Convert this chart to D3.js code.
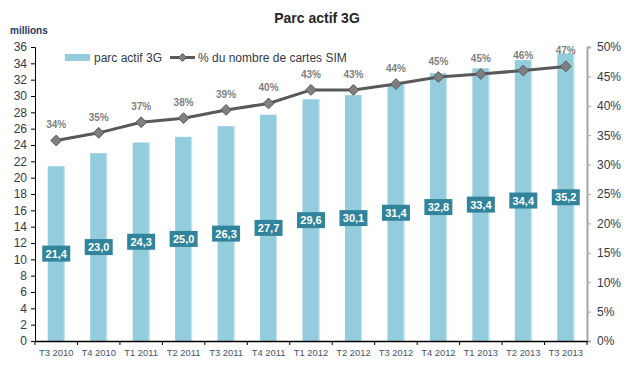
<!DOCTYPE html>
<html><head><meta charset="utf-8">
<script src="https://cdn.jsdelivr.net/npm/d3@7"></script>
<style>body{margin:0;background:#fff;} svg{display:block;font-family:Arial, "Liberation Sans", sans-serif;}</style>
</head><body>
<script>
const categories = ["T3 2010","T4 2010","T1 2011","T2 2011","T3 2011","T4 2011","T1 2012","T2 2012","T3 2012","T4 2012","T1 2013","T2 2013","T3 2013"];
const parcValues = [21.4,23.0,24.3,25.0,26.3,27.7,29.6,30.1,31.4,32.8,33.4,34.4,35.2];
const pctValues = [34.1,35.4,37.2,37.9,39.3,40.4,42.7,42.7,43.7,44.9,45.4,46.0,46.7];
const pctLabels = ["34%","35%","37%","38%","39%","40%","43%","43%","44%","45%","45%","46%","47%"];
const leftTicks = d3.range(0,37,2);
const rightTicks = [0,5,10,15,20,25,30,35,40,45,50];

const W=630,H=369;
const svg=d3.select("body").append("svg").attr("width",W).attr("height",H);
const x0=35,x1=587,yT=47,yB=341;
const x=d3.scaleBand().domain(categories).range([x0,x1]).paddingInner(0.6).paddingOuter(0.3);
const xb=d3.scaleBand().domain(categories).range([x0,x1]);
const y=d3.scaleLinear().domain([0,36]).range([yB,yT]);
const y2=d3.scaleLinear().domain([0,50]).range([yB,yT]);

// title
svg.append("text").attr("x",317).attr("y",23).attr("text-anchor","middle").attr("font-size",14).attr("font-weight","bold").attr("fill","#262626").text("Parc actif 3G");
svg.append("text").attr("x",10).attr("y",34).attr("font-size",10).attr("font-weight","bold").attr("fill","#1f3864").text("millions");

// bars
svg.append("g").selectAll("rect").data(categories).join("rect")
 .attr("x",d=>x(d)).attr("width",x.bandwidth())
 .attr("y",(d,i)=>y(parcValues[i])).attr("height",(d,i)=>yB-y(parcValues[i]))
 .attr("fill","#93cddd");
svg.append("g").selectAll("line").data(categories).join("line")
 .attr("x1",d=>x(d)+x.bandwidth()-0.5).attr("x2",d=>x(d)+x.bandwidth()-0.5)
 .attr("y1",(d,i)=>y(parcValues[i])).attr("y2",yB)
 .attr("stroke","#c9e7ef").attr("stroke-width",1);

// left axis
const gl=svg.append("g").attr("transform",`translate(${x0},0)`)
 .call(d3.axisLeft(y).tickValues(leftTicks).tickSize(4).tickPadding(4));
gl.select(".domain").attr("stroke","#000");
gl.selectAll(".tick line").attr("stroke","#000");
gl.selectAll(".tick text").attr("font-size",12).attr("fill","#333a4a").attr("font-family","Arial, Liberation Sans, sans-serif");

// right axis
const gr=svg.append("g").attr("transform",`translate(${x1},0)`)
 .call(d3.axisRight(y2).tickValues(rightTicks).tickFormat(d=>d+"%").tickSize(4).tickPadding(6));
gr.select(".domain").attr("stroke","#a6a6a6").attr("stroke-width",2);
gr.selectAll(".tick line").attr("stroke","#a6a6a6");
gr.selectAll(".tick text").attr("font-size",12).attr("fill","#333a4a").attr("font-family","Arial, Liberation Sans, sans-serif");

// bottom axis
const gb=svg.append("g").attr("transform",`translate(0,${yB})`)
 .call(d3.axisBottom(xb).tickSize(0).tickPadding(8));
gb.select(".domain").attr("stroke","#000").attr("stroke-width",1.5);
gb.selectAll(".tick text").attr("font-size",9.4).attr("fill","#44546a").attr("font-family","Arial, Liberation Sans, sans-serif");
svg.append("g").selectAll("line").data(categories.concat(["end"])).join("line")
 .attr("x1",(d,i)=>x0+i*xb.step()).attr("x2",(d,i)=>x0+i*xb.step())
 .attr("y1",yB).attr("y2",yB+4).attr("stroke","#000");

// value labels
const lab=svg.append("g").selectAll("g").data(categories).join("g")
 .attr("transform",(d,i)=>`translate(${x(d)+x.bandwidth()/2},${y(parcValues[i]/2)})`);
lab.append("rect").attr("x",-14).attr("y",-8).attr("width",28).attr("height",16).attr("fill","#31849b");
lab.append("text").attr("text-anchor","middle").attr("dy","0.36em").attr("font-size",11).attr("font-weight","bold").attr("fill","#fff")
 .text((d,i)=>parcValues[i].toFixed(1).replace(".",","));

// line
const cx=d=>x(d)+x.bandwidth()/2;
const line=d3.line().x((d,i)=>cx(categories[i])).y(d=>y2(d));
svg.append("path").datum(pctValues).attr("d",line).attr("fill","none").attr("stroke","#595959").attr("stroke-width",3);
const diamond=d3.symbol().type(d3.symbolDiamond2).size(75);
svg.append("g").selectAll("path").data(pctValues).join("path")
 .attr("d",diamond).attr("transform",(d,i)=>`translate(${cx(categories[i])},${y2(d)})`)
 .attr("fill","#7f7f7f").attr("stroke","#595959").attr("stroke-width",1);
svg.append("g").selectAll("text").data(pctValues).join("text")
 .attr("x",(d,i)=>cx(categories[i])).attr("y",d=>y2(d)-12)
 .attr("text-anchor","middle").attr("font-size",10).attr("font-weight","bold").attr("fill","#7f7f7f")
 .text((d,i)=>pctLabels[i]);

// legend
svg.append("rect").attr("x",65).attr("y",54).attr("width",25).attr("height",7).attr("fill","#93cddd");
svg.append("text").attr("x",94).attr("y",62).attr("font-size",12).attr("fill","#333a4a").text("parc actif 3G");
svg.append("line").attr("x1",170).attr("x2",195).attr("y1",57.5).attr("y2",57.5).attr("stroke","#595959").attr("stroke-width",3);
svg.append("path").attr("d",d3.symbol().type(d3.symbolDiamond2).size(40)).attr("transform","translate(182.5,57.5)").attr("fill","#7f7f7f").attr("stroke","#595959");
svg.append("text").attr("x",198).attr("y",62).attr("font-size",12).attr("fill","#333a4a").text("% du nombre de cartes SIM");
</script>
</body></html>
